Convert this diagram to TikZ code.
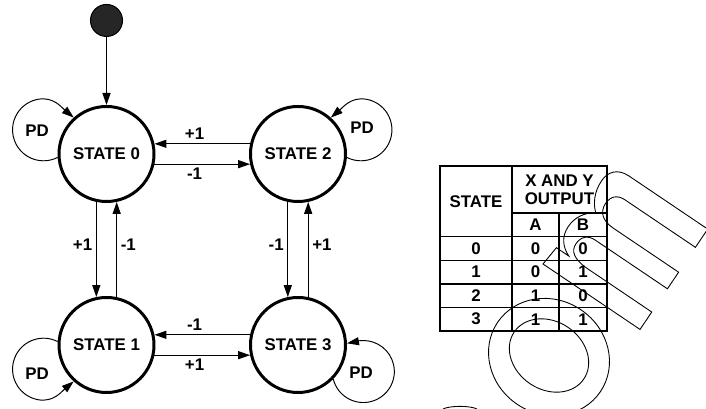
\documentclass[tikz,border=0pt]{standalone}
\usepackage{fontspec}
\setmainfont{Liberation Sans}
\usetikzlibrary{arrows.meta,positioning}

\begin{document}
\begin{tikzpicture}[>={Triangle[length=0.24cm,width=0.16cm]},
  every node/.style={font=\fontsize{9.6}{10.2}\selectfont\bfseries},
  statenode/.style={circle,draw,line width=1.7pt,minimum size=1.9cm,inner sep=0pt},
  startdot/.style={circle,draw,line width=0.6pt,fill=black!85,minimum size=0.64cm,inner sep=0pt},
  conn/.style={line width=0.75pt},
  pdloop/.style={line width=0.55pt},
  lbl/.style={inner sep=2pt},
  tabline/.style={line width=0.75pt},
  wmark/.style={line width=0.5pt}]
\useasboundingbox (0,0) rectangle (14.12,8.18);
% states
\node[statenode] (s0) at (2.13,5.10) {STATE 0};
\node[statenode] (s2) at (5.96,5.10) {STATE 2};
\node[statenode] (s1) at (2.13,1.28) {STATE 1};
\node[statenode] (s3) at (5.96,1.28) {STATE 3};
\node[startdot, above=1.36cm of s0] (init) {};
\draw[conn,->] (init) -- (s0);
% transitions
\draw[conn,->] (s2.168) -- (s0.12) node[lbl,pos=0.58,above] {+1};
\draw[conn,->] (s0.-12) -- (s2.192) node[lbl,pos=0.42,below] {-1};
\draw[conn,->] (s3.168) -- (s1.12) node[lbl,pos=0.58,above] {-1};
\draw[conn,->] (s1.-12) -- (s3.192) node[lbl,pos=0.42,below] {+1};
\draw[conn,->] (s0.258) -- (s1.102) node[lbl,pos=0.45,left] {+1};
\draw[conn,->] (s1.78) -- (s0.282) node[lbl,pos=0.55,right] {-1};
\draw[conn,->] (s2.258) -- (s3.102) node[lbl,pos=0.45,left] {-1};
\draw[conn,->] (s3.78) -- (s2.282) node[lbl,pos=0.55,right] {+1};
% power down loops
\node (pd0) at (0.74,5.56) {PD};
\node (pd2) at (7.24,5.62) {PD};
\node (pd1) at (0.74,0.70) {PD};
\node (pd3) at (7.22,0.72) {PD};
\draw[pdloop,->] (s0.184) arc[start angle=-63,end angle=-260,radius=0.62cm] to[out=10,in=140] (s0.132);
\draw[pdloop,->] (s2.-4) arc[start angle=243,end angle=440,radius=0.62cm] to[out=170,in=40] (s2.48);
\draw[pdloop,->] (s1.176) arc[start angle=63,end angle=260,radius=0.62cm] to[out=-10,in=-140] (s1.228);
\draw[pdloop,->] (s3.316) arc[start angle=194,end angle=450,radius=0.62cm] to[out=180,in=10] (s3.2);
% output table
\draw[line width=1.1pt] (8.8,1.56) rectangle (12.14,4.86);
\draw[tabline] (10.24,1.56) -- (10.24,4.86);
\draw[tabline] (11.18,1.56) -- (11.18,3.917);
\draw[tabline] (10.24,3.917) -- (12.14,3.917);
\foreach \y in {3.446,2.974,2.503,2.031}
  \draw[tabline] (8.8,\y) -- (12.14,\y);
\node (hdst) at (9.52,4.153) {STATE};
\node[align=center] (hdxy) at (11.19,4.389) {X AND Y\\OUTPUT};
\node (hda) at (10.71,3.681) {A};
\node (hdb) at (11.66,3.681) {B};
\foreach \s/\a/\b [count=\i from 0] in {0/0/0,1/0/1,2/1/0,3/1/1} {
  \node (st\i) at (9.52,3.21-\i*0.4714) {\s};
  \node (oa\i) at (10.71,3.21-\i*0.4714) {\a};
  \node (ob\i) at (11.66,3.21-\i*0.4714) {\b};
}
% watermark outline
\begin{scope}[wmark]
\draw[rotate around={-34:(10.98,1.04)}] (10.98,1.04) ellipse [x radius=1.24cm,y radius=1.14cm];
\draw[rotate around={-34:(10.98,1.07)}] (10.98,1.07) ellipse [x radius=0.84cm,y radius=0.68cm];
\draw (8.86,0) .. controls (9.0,0.07) and (9.4,0.07) .. (9.54,0);
\end{scope}
\begin{scope}[wmark,shift={(10.86,2.90)},rotate=56,x=0.02cm,y=0.02cm]
\draw (0,0) -- (0,-117) -- (21,-117) -- (21,-40)
  .. controls (21,-22) and (27,-16) .. (35,-16) .. controls (44,-16) and (49,-21) .. (49,-30)
  -- (49,-117) -- (69,-117) -- (69,-38)
  .. controls (69,-24) and (76,-18) .. (85,-18) .. controls (94,-18) and (99,-23) .. (99,-32)
  -- (99,-117) -- (121,-117) -- (121,-22)
  .. controls (121,-8) and (112,-2) .. (102,-2) .. controls (88,-2) and (78,-8) .. (72,-15)
  .. controls (66,-6) and (57,0) .. (45,0) .. controls (33,0) and (25,-7) .. (21,-17)
  -- (21,-2) -- cycle;
\end{scope}
\end{tikzpicture}
\end{document}
